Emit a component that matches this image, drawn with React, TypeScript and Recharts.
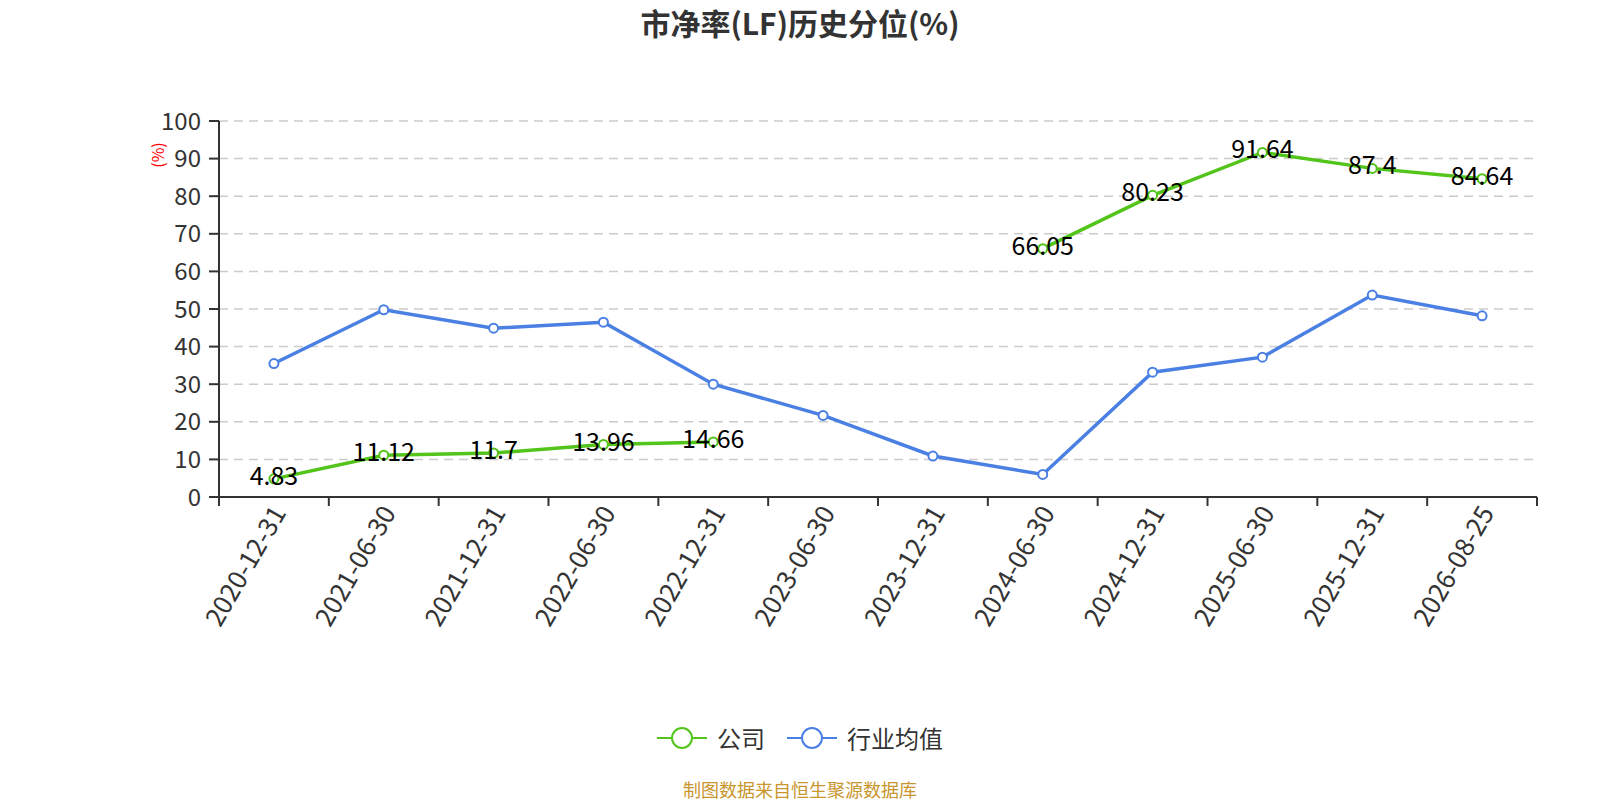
import React from 'react';
import { LineChart, Line, XAxis, YAxis, CartesianGrid, LabelList } from 'recharts';

const dates = [
  '2020-12-31', '2021-06-30', '2021-12-31', '2022-06-30', '2022-12-31', '2023-06-30',
  '2023-12-31', '2024-06-30', '2024-12-31', '2025-06-30', '2025-12-31', '2026-08-25',
];
const companyValues: (number | null)[] = [4.83, 11.12, 11.7, 13.96, 14.66, null, null, 66.05, 80.23, 91.64, 87.4, 84.64];
const industryValues: number[] = [35.5, 49.8, 44.9, 46.5, 30.0, 21.7, 10.9, 6.0, 33.2, 37.2, 53.7, 48.2];
const yTicks = [0, 10, 20, 30, 40, 50, 60, 70, 80, 90, 100];
const seriesNames = ['公司', '行业均值'];
const seriesColors = ['#52c41a', '#4a7fe3'];
const titleText = '市净率(LF)历史分位(%)';
const yUnit = '(%)';
const sourceText = '制图数据来自恒生聚源数据库';

const data = dates.map((d, i) => ({ date: d, company: companyValues[i], industry: industryValues[i] }));

const W = 1600;
const H = 800;
const MARGIN = { top: 121, right: 63, bottom: 153, left: 139 };
const Y_W = 80;
const X_H = 150;
const PLOT_W = W - MARGIN.left - Y_W - MARGIN.right;
const HALF_BAND = PLOT_W / dates.length / 2;
const TICK_LEN = 9;
const FONT = '"Noto Sans CJK SC", "Noto Sans", sans-serif';

const XTick = (props: any) => {
  const { x, y, payload, index } = props;
  const axisY = y - TICK_LEN;
  const last = index === dates.length - 1;
  return (
    <g>
      <line x1={x - HALF_BAND} y1={axisY} x2={x - HALF_BAND} y2={axisY + TICK_LEN} stroke="#333" strokeWidth={2} />
      {last && (
        <line x1={x + HALF_BAND} y1={axisY} x2={x + HALF_BAND} y2={axisY + TICK_LEN} stroke="#333" strokeWidth={2} />
      )}
      <text
        x={0}
        y={0}
        transform={`translate(${x + 3},${axisY + 10}) rotate(-60)`}
        textAnchor="end"
        dominantBaseline="central"
        fontSize={26}
        fill="#333"
        fontFamily={FONT}
      >
        {payload.value}
      </text>
    </g>
  );
};

const PointLabel = (props: any) => {
  const { x, y, value } = props;
  if (value === null || value === undefined) return null;
  return (
    <text x={x} y={y - 5} textAnchor="middle" dominantBaseline="central" fontSize={25} fill="#000" fontFamily={FONT}>
      {value}
    </text>
  );
};

const YUnitLabel = (props: any) => {
  const vb = props.viewBox || { x: MARGIN.left, y: MARGIN.top };
  const cx = vb.x + 18;
  const cy = vb.y + 34;
  return (
    <text
      x={cx}
      y={cy}
      transform={`rotate(-90 ${cx} ${cy})`}
      textAnchor="middle"
      dominantBaseline="central"
      fontSize={16}
      fill="#ff0000"
      fontFamily={FONT}
    >
      {yUnit}
    </text>
  );
};

const LegendItem = ({ name, color }: { name: string; color: string }) => (
  <div style={{ display: 'flex', alignItems: 'center', marginRight: 22 }}>
    <svg width={50} height={24} style={{ display: 'block' }}>
      <line x1={0} y1={12} x2={50} y2={12} stroke={color} strokeWidth={2} />
      <circle cx={25} cy={12} r={10} fill="#fff" stroke={color} strokeWidth={2} />
    </svg>
    <span style={{ marginLeft: 10, fontSize: 24, color: '#333', lineHeight: '24px' }}>{name}</span>
  </div>
);

export default function App() {
  return (
    <div style={{ position: 'absolute', left: 0, top: 0, width: W, height: H, background: '#fff', fontFamily: FONT }}>
      <div
        style={{
          position: 'absolute', left: 0, top: 2, width: W, textAlign: 'center',
          fontSize: 30, fontWeight: 'bold', color: '#333', lineHeight: '40px',
        }}
      >
        {titleText}
      </div>
      <LineChart width={W} height={H} data={data} margin={MARGIN} style={{ position: 'absolute', left: 0, top: 0 }}>
        <CartesianGrid vertical={false} stroke="#ccc" strokeWidth={1.5} strokeDasharray="9 6" />
        <XAxis
          dataKey="date"
          height={X_H}
          interval={0}
          padding={{ left: HALF_BAND, right: HALF_BAND }}
          tickSize={TICK_LEN}
          tickMargin={0}
          tickLine={{ stroke: 'none' }}
          axisLine={{ stroke: '#333', strokeWidth: 2 }}
          tick={<XTick />}
        />
        <YAxis
          width={Y_W}
          domain={[0, 100]}
          ticks={yTicks}
          interval={0}
          tickSize={10}
          tickMargin={8}
          axisLine={{ stroke: '#333', strokeWidth: 2 }}
          tickLine={{ stroke: '#333', strokeWidth: 2 }}
          tick={{ fontSize: 24, fill: '#333', fontFamily: FONT }}
          label={{ value: yUnit, content: <YUnitLabel /> }}
        />
        <Line
          type="linear"
          dataKey="industry"
          name={seriesNames[1]}
          stroke={seriesColors[1]}
          strokeWidth={3.5}
          dot={{ r: 4.5, fill: '#fff', stroke: seriesColors[1], strokeWidth: 2 }}
          isAnimationActive={false}
        />
        <Line
          type="linear"
          dataKey="company"
          name={seriesNames[0]}
          stroke={seriesColors[0]}
          strokeWidth={3.5}
          connectNulls={false}
          dot={{ r: 4.5, fill: '#fff', stroke: seriesColors[0], strokeWidth: 2 }}
          isAnimationActive={false}
        >
          <LabelList dataKey="company" content={<PointLabel />} />
        </Line>
      </LineChart>
      <div
        style={{
          position: 'absolute', left: 0, top: 726, width: W, display: 'flex', justifyContent: 'center',
        }}
      >
        <div style={{ display: 'flex', marginRight: -22 }}>
          {seriesNames.map((n, i) => (
            <LegendItem key={n} name={n} color={seriesColors[i]} />
          ))}
        </div>
      </div>
      <div
        style={{
          position: 'absolute', left: 0, top: 777, width: W, textAlign: 'center',
          fontSize: 18, color: '#c8962e', lineHeight: '24px',
        }}
      >
        {sourceText}
      </div>
    </div>
  );
}
